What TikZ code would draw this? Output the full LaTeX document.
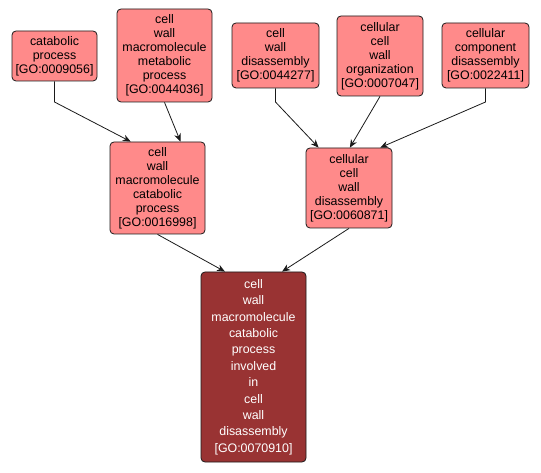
\documentclass[tikz,border=0pt]{standalone}
\usepackage{fontspec}
\setmainfont{Liberation Sans}
\usetikzlibrary{calc,arrows.meta}
\definecolor{term}{HTML}{FF8A8A}
\definecolor{lead}{HTML}{993333}
\definecolor{rim}{HTML}{1A1A1A}
\tikzset{
  goterm/.style={draw=rim,fill=term,rounded corners=3pt,line width=0.6pt,
    align=center,inner sep=0pt,font=\fontsize{9.3}{10.5}\selectfont},
  golead/.style={goterm,fill=lead,text=white,font=\fontsize{9.3}{12.3}\selectfont},
  isa/.style={-{Stealth[length=6pt,width=5pt]},line width=0.6pt,draw=rim}
}
% box at centre (#2,#3), size #4 x #5 in pixels of the reference
\newcommand{\gobox}[6]{%
  \node[#1,minimum width=#4*0.75pt,minimum height=#5*0.75pt] (#2) at (#3) {#6};}

\begin{document}
\begin{tikzpicture}[x=0.75pt,y=-0.75pt]
\useasboundingbox (0,0) rectangle (541,473);
% top row
\gobox{goterm}{cat}{54.5,56}{85}{50}{catabolic\\process\\{[GO:0009056]}}
\gobox{goterm}{cwmmet}{164.5,55.5}{95}{93}{cell\\wall\\macromolecule\\metabolic\\process\\{[GO:0044036]}}
\gobox{goterm}{cwdis}{275.5,55.5}{87}{65}{cell\\wall\\disassembly\\{[GO:0044277]}}
\gobox{goterm}{ccworg}{380,56}{86}{80}{cellular\\cell\\wall\\organization\\{[GO:0007047]}}
\gobox{goterm}{compdis}{485.5,55.5}{87}{65}{cellular\\component\\disassembly\\{[GO:0022411]}}
% middle row
\gobox{goterm}{cwmcat}{157.5,188}{95}{92}{cell\\wall\\macromolecule\\catabolic\\process\\{[GO:0016998]}}
\gobox{goterm}{ccwdis}{349,188}{86}{80}{cellular\\cell\\wall\\disassembly\\{[GO:0060871]}}
% the term itself
\gobox{golead}{target}{253.5,367}{105}{190}{cell\\wall\\macromolecule\\catabolic\\process\\involved\\in\\cell\\wall\\disassembly\\{[GO:0070910]}}
\coordinate (knee) at (0,102);
% edges with a bend below the parent
\foreach \src/\dst/\f in {cat/cwmcat/0.22, cwdis/ccwdis/0.15, compdis/ccwdis/0.86}{%
  \draw[isa] (\src.south) -- (\src.south |- knee)
    -- ($(\dst.north west)!\f!(\dst.north east)$);
}
% straight edges
\foreach \src/\dst/\f in {cwmmet/cwmcat/0.74, ccworg/ccwdis/0.51,
                          cwmcat/target/0.23, ccwdis/target/0.77}{%
  \draw[isa] (\src.south) -- ($(\dst.north west)!\f!(\dst.north east)$);
}
\end{tikzpicture}
\end{document}
